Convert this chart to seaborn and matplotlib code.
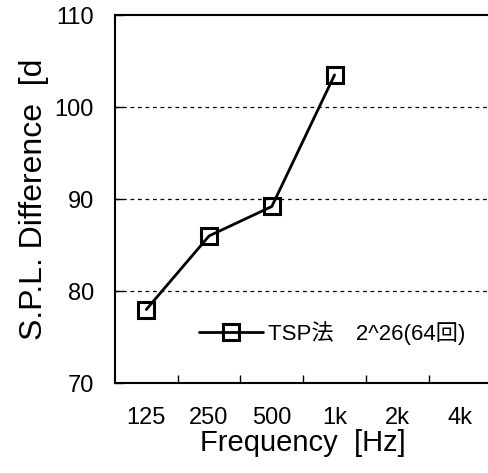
import matplotlib
matplotlib.use("Agg")
import matplotlib.pyplot as plt
import seaborn as sns
import pandas as pd

# frequency bands shown on the x axis
freq_labels = ["125", "250", "500", "1k", "2k", "4k"]
# measured bands and their S.P.L. difference [dB]
meas_freqs = ["125", "250", "500", "1k"]
spl_diff = [78.0, 86.0, 89.2, 103.5]
series_name = "TSP法　2^26(64回)"

sns.set_theme(style="white")
plt.rcParams["font.family"] = ["Liberation Sans", "Noto Sans CJK JP", "DejaVu Sans"]
plt.rcParams["text.color"] = "black"
plt.rcParams["axes.labelcolor"] = "black"
plt.rcParams["xtick.color"] = "black"
plt.rcParams["ytick.color"] = "black"

df = pd.DataFrame({
    "pos": [freq_labels.index(f) for f in meas_freqs],
    "spl": spl_diff,
})

fig = plt.figure(figsize=(4.89, 4.73), dpi=100)
ax = fig.add_axes([0.235, 0.19, 0.77, 0.778])

sns.lineplot(data=df, x="pos", y="spl", ax=ax, color="black", lw=2,
             marker="s", markersize=11, markerfacecolor="none",
             markeredgecolor="black", markeredgewidth=2.2, label=series_name)

ax.set_xlim(-0.5, len(freq_labels) - 0.5)
ax.set_ylim(70, 110)
ax.set_xticks(range(len(freq_labels)))
ax.set_xticklabels(freq_labels)
ax.set_xticks([i + 0.5 for i in range(len(freq_labels) - 1)], minor=True)
ax.set_yticks([70, 80, 90, 100, 110])

ax.tick_params(axis="x", which="major", length=0, pad=17, labelsize=17)
ax.tick_params(axis="x", which="minor", direction="in", length=6, width=1, bottom=True)
ax.tick_params(axis="y", direction="in", length=6, width=1, left=True, pad=15, labelsize=17)

for y in [80, 90, 100]:
    ax.axhline(y, color="black", lw=0.9, ls=(0, (3, 3)), zorder=0)

for s in ax.spines.values():
    s.set_color("black")
    s.set_linewidth(1.5)

ax.set_xlabel("Frequency  [Hz]", fontsize=21, labelpad=0)
ax.set_ylabel("S.P.L. Difference  [d", fontsize=23, labelpad=4)

ax.legend(loc="center left", bbox_to_anchor=(0.17, 0.136), frameon=False,
          fontsize=16, handlelength=2.9, handletextpad=0.2)

fig.savefig("out.png", dpi=100)
